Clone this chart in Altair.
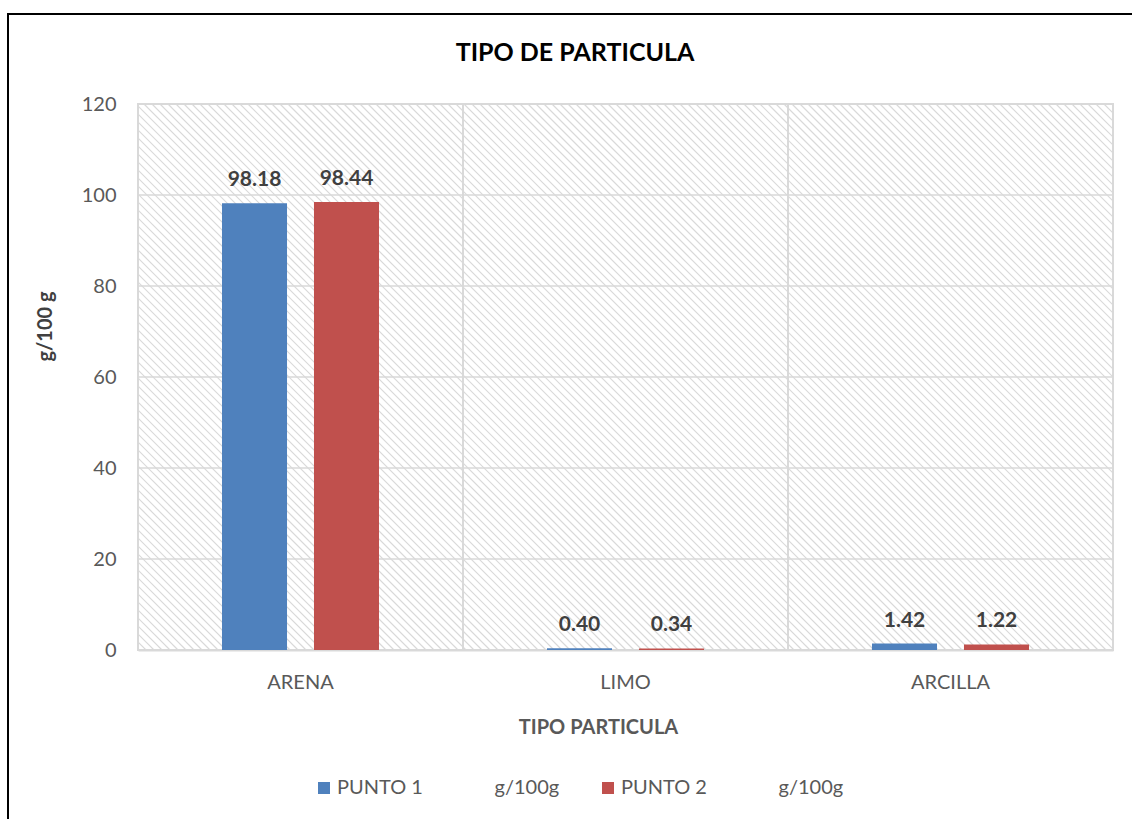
import altair as alt
import pandas as pd
import numpy as np

NB = "\u00a0"
categories = ["ARENA", "LIMO", "ARCILLA"]
series = ["PUNTO 1" + NB * 14 + "g/100g", "PUNTO 2" + NB * 14 + "g/100g"]
punto1 = [98.18, 0.40, 1.42]
punto2 = [98.44, 0.34, 1.22]
y_ticks = [0, 20, 40, 60, 80, 100, 120]
separators = ["LIMO", "ARCILLA"]
chart_title = ["TIPO DE PARTICULA"]

W, H = 975, 546
FONT = "Lato"

rows = []
for i, c in enumerate(categories):
    rows.append({"cat": c, "serie": series[0], "val": punto1[i]})
    rows.append({"cat": c, "serie": series[1], "val": punto2[i]})
df = pd.DataFrame(rows)
df["label"] = df["val"].map(lambda v: f"{v:.2f}")

grid_df = pd.DataFrame({"t": y_ticks})
sep_df = pd.DataFrame({"cat": separators})
hatch_df = pd.DataFrame({"k": np.arange(-H, W + 8, 8)})
one = pd.DataFrame({"a": [0]})
title_df = pd.DataFrame({"title": chart_title})

xscale = alt.Scale(domain=categories, paddingInner=0, paddingOuter=0)
offscale = alt.Scale(domain=series, paddingInner=0.293, paddingOuter=0.913)
yscale = alt.Scale(domain=[0, 120], nice=False)

x_axis = alt.Axis(
    title="TIPO PARTICULA",
    labelAngle=0,
    labelFontSize=20,
    labelColor="#595959",
    labelPadding=22,
    ticks=False,
    domainColor="#d9d9d9",
    domainWidth=2,
    grid=False,
    titleFontSize=20,
    titleFontWeight="bold",
    titleColor="#595959",
    titleX=460,
    titleY=77,
    titleAlign="center",
    titleBaseline="middle",
)
y_axis = alt.Axis(
    values=y_ticks,
    title="g/100 g",
    labelFontSize=20,
    labelColor="#595959",
    labelPadding=22,
    ticks=False,
    domain=False,
    grid=False,
    titleFontSize=20,
    titleFontWeight="bold",
    titleColor="#404040",
    titleX=-93,
    titleY=222,
    titleAlign="center",
    titleBaseline="middle",
)

# decorative hatch background
hatch = alt.Chart(hatch_df).transform_calculate(k2=f"datum.k + {H}").mark_rule(
    color="#d9d9d9", strokeWidth=1.2, clip=True
).encode(
    x=alt.X("k:Q", scale=alt.Scale(domain=[0, W], nice=False, zero=False), axis=None),
    x2="k2:Q",
    y=alt.value(0),
    y2=alt.value(H),
)

grid = alt.Chart(grid_df).mark_rule(color="#d9d9d9", strokeWidth=1.5).encode(
    y=alt.Y("t:Q", scale=yscale, axis=y_axis),
    x=alt.value(0),
    x2=alt.value(W),
)

seps = alt.Chart(sep_df).mark_rule(color="#d9d9d9", strokeWidth=2).encode(
    x=alt.X("cat:N", sort=categories, scale=xscale, bandPosition=0, axis=x_axis),
    y=alt.value(0),
    y2=alt.value(H),
)

bars = alt.Chart(df).mark_bar().encode(
    x=alt.X("cat:N", sort=categories, scale=xscale, axis=x_axis),
    xOffset=alt.XOffset("serie:N", sort=series, scale=offscale),
    y=alt.Y("val:Q", scale=yscale, axis=y_axis),
    color=alt.Color(
        "serie:N",
        sort=series,
        scale=alt.Scale(domain=series, range=["#4F81BD", "#C0504D"]),
        legend=alt.Legend(
            orient="none",
            legendX=176,
            legendY=674,
            direction="horizontal",
            title=None,
            symbolType="square",
            symbolSize=144,
            symbolStrokeWidth=0,
            labelFontSize=20,
            labelColor="#595959",
            columnPadding=38,
            labelOffset=3,
            labelLimit=600,
        ),
    ),
)

labels = alt.Chart(df).mark_text(
    fontWeight="bold", fontSize=21, color="#404040", baseline="bottom", dy=-13
).encode(
    x=alt.X("cat:N", sort=categories, scale=xscale, axis=x_axis),
    xOffset=alt.XOffset("serie:N", sort=series, scale=offscale),
    y=alt.Y("val:Q", scale=yscale, axis=y_axis),
    text="label:N",
)

inner = alt.layer(grid, seps, bars, labels)

border_top = alt.Chart(one).mark_rule(color="black", strokeWidth=2).encode(
    x=alt.value(-130), x2=alt.value(1100), y=alt.value(-90)
)
border_left = alt.Chart(one).mark_rule(color="black", strokeWidth=2).encode(
    x=alt.value(-130), y=alt.value(-91), y2=alt.value(800)
)
title = alt.Chart(title_df).mark_text(
    fontSize=25, fontWeight="bold", color="black", align="center", baseline="middle"
).encode(
    x=alt.value(437), y=alt.value(-51), text="title:N"
)

chart = (
    alt.layer(hatch, inner, border_top, border_left, title)
    .resolve_scale(x="independent")
    .properties(
        width=W,
        height=H,
        autosize=alt.AutoSizeParams(type="none"),
        padding={"left": 138, "top": 104, "right": 19, "bottom": 169},
    )
    .configure(font=FONT)
    .configure_view(stroke="#d9d9d9", strokeWidth=2)
)

chart.save("out.html", embed_options={"renderer": "svg", "actions": False})
